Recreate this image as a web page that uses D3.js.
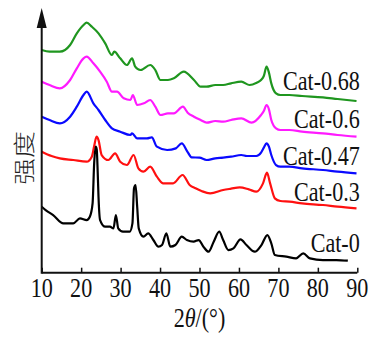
<!DOCTYPE html>
<html><head><meta charset="utf-8">
<script src="https://cdn.jsdelivr.net/npm/d3@7"></script>
<style>html,body{margin:0;padding:0;background:#fff;}svg{display:block;}</style>
</head><body>
<script>
const xTicks = [10,20,30,40,50,60,70,80,90];
const seriesNames = ["Cat-0.68","Cat-0.6","Cat-0.47","Cat-0.3","Cat-0"];
const seriesColors = ["#1f961f","#ff1aff","#0a0aff","#ff1010","#000000"];
const xLabel = ["2","θ","/(°)"];
const yLabel = "强度";

const cat068 = [[10,668],[12,663],[14.6,663],[17.2,683],[18.9,718],[20.6,743],[21.4,750],[22.7,738],[24.4,718],[26.1,688],[27.8,653],[28.4,663],[29.9,643],[31.6,623],[32.9,643],[33.7,618],[35,608],[37.5,623],[38.8,608],[40.1,578],[42,578],[43.5,583],[46,603],[48.6,578],[50.3,558],[51.8,558],[54,563],[56,563],[58,568],[60.6,573],[62.7,563],[64.5,570],[65.6,578],[66.3,590],[67,618],[67.6,600],[68.2,568],[69.4,538],[70.5,533],[72.8,533],[76,530],[81.3,526],[85,521],[89.8,515]];
const cat06 = [[10,573],[12,563],[14.6,553],[17.2,578],[18.9,613],[20.6,643],[21.4,648],[23.1,628],[24.8,603],[26.5,573],[27.8,543],[29.1,543],[30.8,523],[32.5,518],[33.1,533],[34.2,503],[35.9,508],[37.5,518],[38.8,498],[40.1,473],[42,478],[43.5,478],[45.8,498],[47,480],[48.6,468],[50.3,458],[51.8,450],[54,455],[56,453],[58,458],[60.6,463],[63.2,450],[65.6,473],[66.3,485],[67,503],[67.6,490],[68.2,458],[69.4,433],[70.5,428],[72.8,428],[76,423],[81.3,418],[85,413],[89.8,408]];
const cat047 = [[10,468],[12,458],[14.6,448],[17.2,468],[18.9,498],[20.6,533],[21.4,543],[23.1,508],[24.4,488],[26.1,458],[27.8,433],[29.9,423],[32.5,413],[32.9,418],[34.2,403],[36.7,403],[37.9,406],[39.2,378],[41.8,368],[44,373],[45.5,388],[47,362],[48,346],[50,345],[51.8,338],[54,343],[56,345],[58,348],[60.6,353],[62,350],[64.4,350],[65.6,360],[66.3,375],[67,388],[67.6,378],[68.2,353],[69.4,323],[70.5,318],[72.8,318],[76,313],[81.3,308],[85,303],[89.8,298]];
const cat03 = [[10,363],[12.5,350],[14.6,343],[18,338],[21.4,333],[22.7,348],[23.3,380],[23.9,408],[24.4,398],[25.2,353],[26.9,338],[28.6,358],[29.9,333],[31.6,323],[33.3,353],[34.5,313],[35.8,303],[37.5,318],[39.2,288],[40.8,268],[43.3,268],[45.7,293],[47.5,263],[49,253],[50.5,245],[52.7,238],[56,248],[58,252],[60.2,256],[62.5,250],[64.4,243],[66.1,268],[67.1,300],[67.9,268],[69.1,223],[70.5,215],[72.8,213],[76,208],[81.3,203],[85,198],[89.8,193]];
const cat0 = [[10,198],[11,188],[12.9,173],[15.5,148],[18,148],[19.7,163],[21.4,158],[22.2,168],[22.9,208],[23.3,328],[23.7,378],[23.95,370],[24.2,300],[24.4,228],[24.8,158],[26.1,138],[27.3,138],[28.2,133],[28.8,173],[29.4,133],[30.6,123],[32.3,123],[33,148],[33.4,253],[33.8,263],[34.2,198],[34.6,133],[35.8,108],[37,118],[38.3,98],[39.6,78],[40.5,83],[41.6,118],[42.6,78],[43.9,83],[45.5,108],[46.8,98],[48.5,93],[49.8,98],[51,78],[52.3,63],[53.6,93],[55,123],[56,98],[57.3,68],[58.6,73],[60.4,100],[61.9,83],[64,63],[65.7,83],[67.2,113],[68.2,88],[69.1,53],[72,48],[74.5,43],[76.3,58],[78,43],[81.3,38],[84.7,38],[87.6,36]];
const seriesData = [cat068, cat06, cat047, cat03, cat0];
const labelPos = [[90,548],[90,434],[90,323],[90,214],[90,63]];

const SERIF = "Liberation Serif";
const W = 375, H = 339;
const svg = d3.select("body").append("svg").attr("width", W).attr("height", H);
const x = d3.scaleLinear().domain([10, 90]).range([41.7, 357.3]);
const y = d3.scaleLinear().domain([0, 800]).range([272.7, 6]);

const line = d3.line().x(d => x(d[0])).y(d => y(d[1])).curve(d3.curveMonotoneX);
seriesData.forEach((s, i) => {
  svg.append("path").datum(s).attr("d", line)
    .attr("fill", "none").attr("stroke", seriesColors[i])
    .attr("stroke-width", 2.2).attr("stroke-linejoin", "round");
});

const gx = svg.append("g").attr("transform", `translate(0,${y(0)})`);
gx.call(d3.axisBottom(x).tickValues(xTicks).tickSize(-5).tickFormat(""));
gx.select(".domain").attr("stroke", "#111").attr("stroke-width", 2).attr("d", `M${x(10)},0H${x(90)}`);
gx.selectAll(".tick line").attr("stroke", "#111").attr("stroke-width", 1.5);

xTicks.forEach(t => {
  svg.append("text")
    .attr("font-family", SERIF).attr("font-size", 27)
    .attr("fill", "#111").attr("text-anchor", "middle")
    .attr("transform", `translate(${x(t)},${y(0) + 24}) scale(0.82,1)`)
    .text(t);
});

svg.append("line").attr("x1", x(10)).attr("x2", x(10)).attr("y1", y(0) + 1).attr("y2", 26)
  .attr("stroke", "#111").attr("stroke-width", 2);
svg.append("path").attr("d", `M${x(10)},8L${x(10)-5},28L${x(10)+5},28Z`).attr("fill", "#111");

labelPos.forEach((p, i) => {
  svg.append("text")
    .attr("font-family", SERIF).attr("font-size", 27)
    .attr("transform", `translate(${x(p[0]) + 2.5},${y(p[1])}) scale(0.82,1)`)
    .attr("text-anchor", "end")
    .attr("fill", "#111")
    .text(seriesNames[i]);
});

const xt = svg.append("text")
  .attr("font-family", SERIF).attr("font-size", 27)
  .attr("transform", `translate(${x(50)},327) scale(0.82,1)`)
  .attr("text-anchor", "middle").attr("fill", "#111");
xt.append("tspan").text(xLabel[0]);
xt.append("tspan").attr("font-style", "italic").text(xLabel[1]);
xt.append("tspan").text(xLabel[2]);

svg.append("text")
  .attr("transform", "translate(23,158) rotate(-90) scale(1,0.78)")
  .attr("text-anchor", "middle").attr("dominant-baseline", "central")
  .attr("fill", "#222")
  .attr("font-family", "Noto Sans CJK SC")
  .attr("font-weight", 300)
  .attr("font-size", 27)
  .text(yLabel);
</script>
</body></html>
